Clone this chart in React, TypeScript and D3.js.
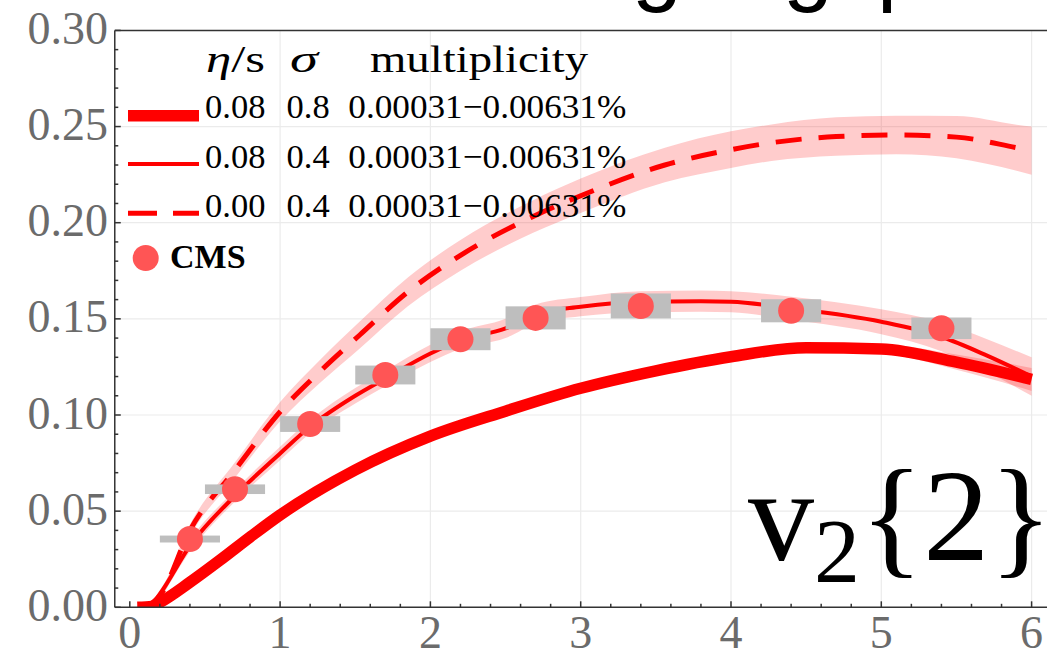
import React from 'react';
import * as d3 from 'd3';

// thick solid: eta/s = 0.08, sigma = 0.8
const thickPt = [0.05, 0.15, 0.2, 0.4, 0.6, 0.8, 1.0, 1.5, 2.0, 2.5, 3.0, 3.5, 4.0, 4.5, 5.0, 5.5, 6.0];
const thickV2 = [0.0, 0.0005, 0.0025, 0.013, 0.0245, 0.0365, 0.048, 0.0714, 0.089, 0.102, 0.1139, 0.123, 0.1303, 0.135, 0.1343, 0.1275, 0.1185];
const thickErr = [0.001, 0.001, 0.0012, 0.0015, 0.0015, 0.0015, 0.0015, 0.0015, 0.0015, 0.0015, 0.0015, 0.0015, 0.0018, 0.002, 0.0025, 0.004, 0.006];

// thin solid: eta/s = 0.08, sigma = 0.4
const thinPt = [0.1, 0.15, 0.2, 0.4, 0.7, 1.0, 1.2, 1.5, 1.7, 2.0, 2.2, 2.5, 2.7, 3.0, 3.4, 3.8, 4.0, 4.4, 5.0, 5.4, 5.7, 6.0];
const thinV2 = [0.0, 0.002, 0.007, 0.032, 0.058, 0.08, 0.094, 0.11, 0.119, 0.132, 0.139, 0.145, 0.1525, 0.1563, 0.1589, 0.1592, 0.1589, 0.1555, 0.1485, 0.1407, 0.131, 0.12];
const thinErr = [0.001, 0.0015, 0.002, 0.003, 0.003, 0.0035, 0.0035, 0.004, 0.004, 0.0045, 0.0045, 0.005, 0.005, 0.005, 0.0055, 0.0055, 0.0055, 0.006, 0.0065, 0.0075, 0.0085, 0.01];

// dashed: eta/s = 0.00, sigma = 0.4
const dashPt = [0.1, 0.2, 0.4, 0.7, 1.0, 1.27, 1.53, 1.85, 2.2, 2.68, 3.0, 3.56, 4.0, 4.27, 4.7, 5.1, 5.5, 5.9, 6.0];
const dashV2 = [0.0, 0.006, 0.04, 0.0714, 0.1017, 0.123, 0.1416, 0.164, 0.183, 0.2031, 0.214, 0.23, 0.238, 0.2416, 0.2448, 0.2456, 0.2445, 0.239, 0.2375];
const dashErr = [0.001, 0.002, 0.003, 0.004, 0.005, 0.006, 0.007, 0.0075, 0.008, 0.0085, 0.009, 0.009, 0.0095, 0.0095, 0.01, 0.01, 0.011, 0.012, 0.0125];

// CMS data
const cmsPt = [0.4, 0.7, 1.2, 1.7, 2.2, 2.7, 3.4, 4.4, 5.4];
const cmsV2 = [0.0355, 0.0614, 0.0953, 0.1208, 0.1394, 0.1505, 0.1567, 0.1542, 0.1451];
const cmsSys = [0.0018, 0.0025, 0.0041, 0.0049, 0.0057, 0.006, 0.0065, 0.006, 0.0056];
const cmsLo = [0.2, 0.5, 1.0, 1.5, 2.0, 2.5, 3.2, 4.2, 5.2];
const cmsHi = [0.6, 0.9, 1.4, 1.9, 2.4, 2.9, 3.6, 4.6, 5.6];

const xTicks = [0, 1, 2, 3, 4, 5, 6];
const yTicks = [0, 0.05, 0.1, 0.15, 0.2, 0.25, 0.3];
const yTickLabels = ['0.00', '0.05', '0.10', '0.15', '0.20', '0.25', '0.30'];

const legendRows = [
  { eta: '0.08', sigma: '0.8', mult: '0.00031\u22120.00631%', width: 11.5, dash: null },
  { eta: '0.08', sigma: '0.4', mult: '0.00031\u22120.00631%', width: 4, dash: null },
  { eta: '0.00', sigma: '0.4', mult: '0.00031\u22120.00631%', width: 5, dash: '29 16' },
];

const RED = '#ff0000';
const BAND = 'rgba(255,0,0,0.2)';
const SERIF = '"Liberation Serif", "Times New Roman", serif';

export default function App() {
  const W = 1047;
  const H = 652;
  const x = d3.scaleLinear().domain([0, 6]).range([129.8, 1031.6]);
  const y = d3.scaleLinear().domain([0, 0.3]).range([607.3, 30.4]);

  const left = x(-0.1);
  const right = x(6.2);
  const top = y(0.3);
  const bottom = y(0);

  const mk = (pts: number[], vals: number[], errs: number[]) =>
    pts.map((p, i) => ({ p, v: vals[i], e: errs[i] }));
  const curves = [
    { d: mk(thickPt, thickV2, thickErr), width: 11.5, dash: null },
    { d: mk(thinPt, thinV2, thinErr), width: 4, dash: null },
    { d: mk(dashPt, dashV2, dashErr), width: 5, dash: '26 17' },
  ];

  type P = { p: number; v: number; e: number };
  const line = d3.line<P>().x(d => x(d.p)).y(d => y(d.v)).curve(d3.curveMonotoneX);
  const area = d3.area<P>()
    .x(d => x(d.p))
    .y0(d => y(d.v - d.e))
    .y1(d => y(d.v + d.e))
    .curve(d3.curveMonotoneX);

  const minorX = d3.range(0, 6.01, 0.2).filter(v => Math.abs(v - Math.round(v)) > 1e-6);
  const minorY = d3.range(0, 0.3001, 0.01).filter(v => Math.abs(v * 20 - Math.round(v * 20)) > 1e-6);

  return (
    <svg width={W} height={H} style={{ position: 'absolute', left: 0, top: 0, background: '#fff' }}>
      <defs>
        <clipPath id="plot">
          <rect x={left} y={top} width={right - left} height={bottom - top} />
        </clipPath>
      </defs>

      {/* cut-off heading above the chart */}
      <g fontFamily='"Liberation Sans", Arial, sans-serif' fontSize={90} fill="#000">
        <text x={657} y={-6} textAnchor="middle">g</text>
        <text x={808} y={-6} textAnchor="middle">g</text>
        <text x={877} y={-6}>p</text>
      </g>

      {/* grid */}
      <g stroke="#ebebeb" strokeWidth={1.2}>
        {xTicks.filter(v => v > 0).map(v => (
          <line key={'gx' + v} x1={x(v)} x2={x(v)} y1={top} y2={bottom} />
        ))}
        {yTicks.filter(v => v > 0 && v < 0.3).map(v => (
          <line key={'gy' + v} x1={left} x2={right} y1={y(v)} y2={y(v)} />
        ))}
      </g>

      {/* bands and curves */}
      <g clipPath="url(#plot)">
        {curves.map((c, i) => (
          <path key={'b' + i} d={area(c.d) || ''} fill={BAND} />
        ))}
        {curves.map((c, i) => (
          <path
            key={'l' + i}
            d={line(c.d) || ''}
            fill="none"
            stroke={RED}
            strokeWidth={c.width}
            strokeDasharray={c.dash || undefined}
          />
        ))}
      </g>

      {/* CMS points */}
      <g>
        {cmsPt.map((p, i) => (
          <rect
            key={'s' + i}
            x={x(cmsLo[i])}
            width={x(cmsHi[i]) - x(cmsLo[i])}
            y={y(cmsV2[i] + cmsSys[i])}
            height={y(cmsV2[i] - cmsSys[i]) - y(cmsV2[i] + cmsSys[i])}
            fill="#bebebe"
          />
        ))}
        {cmsPt.map((p, i) => (
          <circle key={'c' + i} cx={x(p)} cy={y(cmsV2[i])} r={13} fill="#ff5555" />
        ))}
      </g>

      {/* frame and ticks */}
      <g stroke="#333" strokeWidth={1.5}>
        <line x1={left} x2={W} y1={top} y2={top} />
        <line x1={left} x2={left} y1={top} y2={bottom} />
        <line x1={left} x2={W} y1={bottom} y2={bottom} />
        {xTicks.map(v => (
          <line key={'tx' + v} x1={x(v)} x2={x(v)} y1={bottom} y2={bottom - 6} />
        ))}
        {minorX.map((v, i) => (
          <line key={'mx' + i} x1={x(v)} x2={x(v)} y1={bottom} y2={bottom - 3.5} />
        ))}
        {yTicks.map(v => (
          <line key={'ty' + v} x1={left} x2={left + 6} y1={y(v)} y2={y(v)} />
        ))}
        {minorY.map((v, i) => (
          <line key={'my' + i} x1={left} x2={left + 3.5} y1={y(v)} y2={y(v)} />
        ))}
      </g>

      <g fontFamily={SERIF} fontSize={46} fill="#6b6b6b">
        {xTicks.map(v => (
          <text key={'lx' + v} x={x(v)} y={648} textAnchor="middle">{v}</text>
        ))}
        {yTicks.map((v, i) => (
          <text key={'ly' + v} x={108} y={y(v) + 13.5} textAnchor="end">{yTickLabels[i]}</text>
        ))}
      </g>

      {/* legend */}
      <g fontFamily={SERIF} fill="#000">
        <text x={206} y={71.7} fontSize={38} textLength={59} lengthAdjust="spacingAndGlyphs">
          <tspan fontStyle="italic">η</tspan>/s
        </text>
        <text x={290} y={71.7} fontSize={38} fontStyle="italic" textLength={28} lengthAdjust="spacingAndGlyphs">σ</text>
        <text x={370} y={71.7} fontSize={38} textLength={218} lengthAdjust="spacingAndGlyphs">multiplicity</text>
        {legendRows.map((r, i) => {
          const base = 118.3 + i * 49.2;
          return (
            <g key={'lg' + i}>
              <line
                x1={128}
                x2={199}
                y1={base - 2.5 - (i === 0 ? 0 : 1)}
                y2={base - 2.5 - (i === 0 ? 0 : 1)}
                stroke={RED}
                strokeWidth={r.width}
                strokeDasharray={r.dash || undefined}
              />
              <text x={205} y={base} fontSize={34.5}>{r.eta}</text>
              <text x={286.5} y={base} fontSize={34.5}>{r.sigma}</text>
              <text x={348.3} y={base} fontSize={34.5} textLength={278} lengthAdjust="spacingAndGlyphs">{r.mult}</text>
            </g>
          );
        })}
        <circle cx={145.7} cy={258} r={13} fill="#ff5555" />
        <text x={170} y={268} fontSize={34} fontWeight="bold">CMS</text>
      </g>

      {/* observable label */}
      <text x={748} y={560} fontFamily={SERIF} fontSize={132} fill="#000">
        v<tspan fontSize={92} dy={22}>2</tspan><tspan dy={-22}>{'{2}'}</tspan>
      </text>
    </svg>
  );
}
